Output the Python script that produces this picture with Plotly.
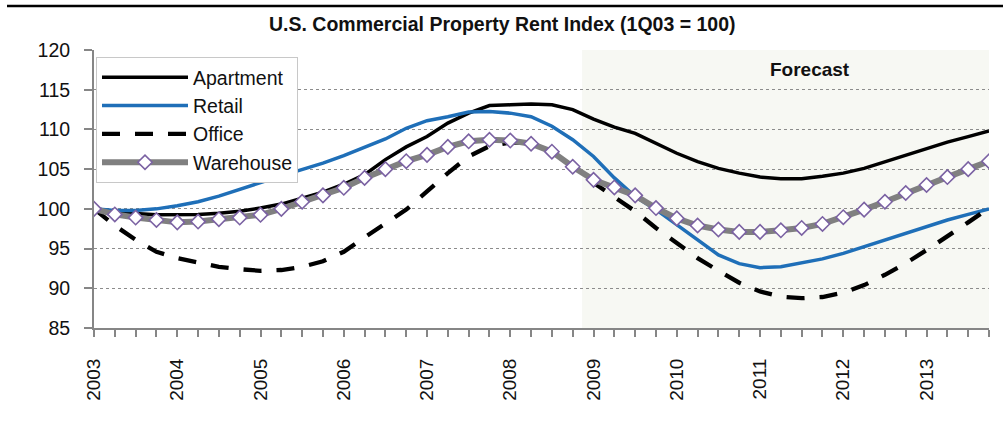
import plotly.graph_objects as go

# ---------------- data ----------------
years = ["2003", "2004", "2005", "2006", "2007", "2008", "2009", "2010", "2011", "2012", "2013"]
quarters = [f"{y}Q{q}" for y in years for q in (1, 2, 3, 4)]

apartment = [100.0, 99.7, 99.4, 99.25, 99.25, 99.3, 99.45, 99.7, 100.1, 100.6, 101.35, 102.1,
             103.1, 104.3, 106.2, 107.8, 109.1, 110.8, 112.05, 113.0, 113.1, 113.2, 113.1, 112.5,
             111.3, 110.3, 109.5, 108.3, 107.0, 105.95, 105.1, 104.5, 104.0, 103.8, 103.8, 104.1,
             104.5, 105.1, 105.95, 106.8, 107.6, 108.4, 109.1, 109.8]
retail = [100.0, 99.8, 99.8, 100.0, 100.4, 100.9, 101.6, 102.4, 103.3, 104.15, 104.9, 105.75,
          106.7, 107.8, 108.8, 110.15, 111.1, 111.6, 112.2, 112.25, 112.05, 111.6, 110.4, 108.7,
          106.6, 103.9, 101.55, 99.9, 98.0, 96.1, 94.2, 93.1, 92.6, 92.7, 93.15, 93.7,
          94.4, 95.25, 96.1, 96.9, 97.8, 98.6, 99.3, 100.0]
office = [100.0, 97.9, 96.1, 94.6, 93.8, 93.2, 92.7, 92.4, 92.2, 92.3, 92.7, 93.4,
          94.6, 96.4, 98.1, 99.9, 102.2, 104.5, 106.6, 107.9, 108.35, 108.3, 107.1, 105.4,
          103.3, 101.5, 99.7, 97.6, 95.7, 93.8, 92.2, 90.7, 89.6, 88.95, 88.75, 88.9,
          89.45, 90.4, 91.7, 93.15, 94.8, 96.5, 98.3, 100.1]
warehouse = [100.0, 99.3, 98.9, 98.6, 98.3, 98.4, 98.7, 98.9, 99.25, 100.0, 100.9, 101.7,
             102.65, 103.9, 105.0, 106.0, 106.8, 107.8, 108.5, 108.7, 108.6, 108.2, 107.2, 105.3,
             103.65, 102.7, 101.7, 100.1, 98.8, 97.9, 97.4, 97.1, 97.1, 97.3, 97.6, 98.1,
             98.95, 99.9, 100.9, 102.0, 103.0, 104.0, 105.0, 106.0]

y_ticks = [85, 90, 95, 100, 105, 110, 115, 120]
forecast_start = 23.45   # category position where the forecast shading begins
title_text = "U.S. Commercial Property Rent Index (1Q03 = 100)"
forecast_text = "Forecast"

# ---------------- figure ----------------
x = list(range(len(quarters)))
year_pos = [quarters.index(f"{y}Q1") for y in years]

REG = "Liberation Sans, Arial, sans-serif"
W, H = 1003, 421
L, R, T, B = 94, 14, 50, 93
PH = H - T - B  # plot height in px
PW = W - L - R

fig = go.Figure()
fig.add_trace(go.Scatter(x=x, y=apartment, name="Apartment", mode="lines",
                         line=dict(color="#000000", width=3.5), text=quarters))
fig.add_trace(go.Scatter(x=x, y=retail, name="Retail", mode="lines",
                         line=dict(color="#1F6FB8", width=3.5), text=quarters))
fig.add_trace(go.Scatter(x=x, y=office, name="Office", mode="lines",
                         line=dict(color="#000000", width=4.3, dash="18px,15px"), text=quarters))
fig.add_trace(go.Scatter(x=x, y=warehouse, name="Warehouse", mode="lines+markers",
                         line=dict(color="#808080", width=6),
                         marker=dict(symbol="diamond", size=11, color="#FFFFFF",
                                     line=dict(color="#7B62A3", width=1.6)),
                         text=quarters))

# forecast shading
fig.add_shape(type="rect", xref="x", yref="y", x0=forecast_start, x1=x[-1] + 0.1,
              y0=y_ticks[0], y1=y_ticks[-1], fillcolor="#F7F8F3", line=dict(width=0),
              layer="below")
fig.add_annotation(x=34.4, y=117.6, xref="x", yref="y", text="<b>" + forecast_text + "</b>",
                   showarrow=False, font=dict(family=REG, size=19, color="#111111"))

# title
fig.add_annotation(x=(502 - L) / PW, y=(H - B - 24.5) / PH, xref="paper", yref="paper",
                   text="<b>" + title_text + "</b>", showarrow=False, yanchor="middle",
                   font=dict(family=REG, size=19.5, color="#111111"))

# top rule line
fig.add_shape(type="line", xref="paper", yref="paper", x0=(7 - L) / PW, x1=(W - L) / PW,
              y0=(H - B - 6) / PH, y1=(H - B - 6) / PH, line=dict(color="#000000", width=2.5))

fig.update_layout(
    width=W, height=H,
    margin=dict(l=L, r=R, t=T, b=B),
    paper_bgcolor="#FFFFFF", plot_bgcolor="#FFFFFF",
    showlegend=True,
    legend=dict(x=2 / PW, y=(H - B - 57) / PH, xanchor="left", yanchor="top",
                bgcolor="#FFFFFF", bordercolor="#C8C8C8", borderwidth=1,
                font=dict(family=REG, size=19.5, color="#111111"),
                itemwidth=86, tracegroupgap=0),
    xaxis=dict(range=[0, x[-1]], tickmode="array", tickvals=year_pos, ticktext=years,
               tickangle=-90, ticks="outside", ticklen=7, tickcolor="#868686", tickwidth=1.5,
               showline=True, linecolor="#868686", linewidth=2, showgrid=False, zeroline=False,
               ticklabelstandoff=14,
               tickfont=dict(family=REG, size=19, color="#111111"),
               minor=dict(dtick=1, tick0=0, ticks="outside", ticklen=7, tickcolor="#868686",
                          tickwidth=1.5, showgrid=False)),
    yaxis=dict(range=[y_ticks[0], y_ticks[-1]], tickmode="array", tickvals=y_ticks,
               ticks="outside", ticklen=8, tickcolor="#868686", tickwidth=1.5,
               showline=True, linecolor="#868686", linewidth=2,
               showgrid=True, gridcolor="#8C8C8C", griddash="dot", gridwidth=1,
               zeroline=False, ticklabelstandoff=10,
               tickfont=dict(family=REG, size=19.5, color="#111111")),
)

fig.write_html("out.html", config={"displayModeBar": False},
               post_script="document.body.style.margin='0px';")
